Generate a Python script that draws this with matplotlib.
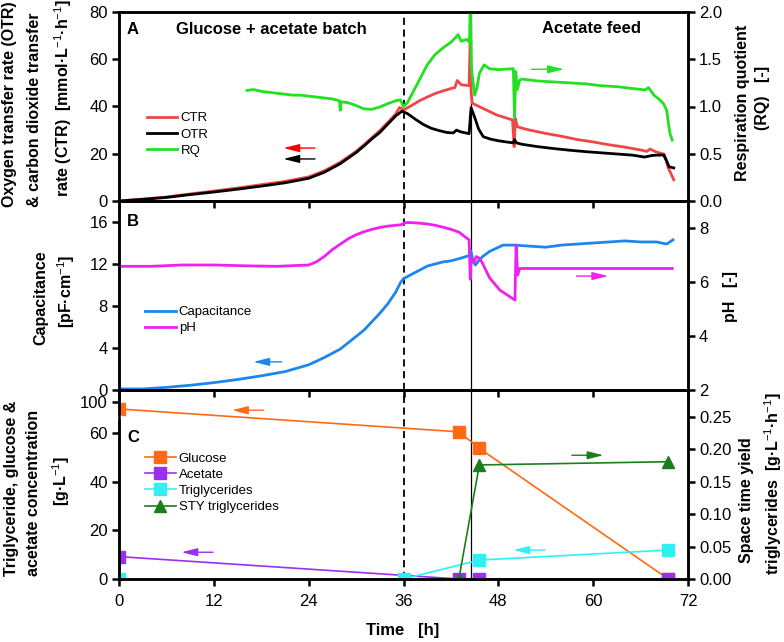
import numpy as np
import matplotlib
matplotlib.use('Agg')
import matplotlib.pyplot as plt
from matplotlib.ticker import FormatStrFormatter

plt.rcParams['font.family'] = ['Liberation Sans', 'DejaVu Sans']
plt.rcParams['mathtext.fontset'] = 'custom'
plt.rcParams['mathtext.rm'] = 'Liberation Sans'
plt.rcParams['mathtext.bf'] = 'Liberation Sans:bold'
plt.rcParams['font.size'] = 12
plt.rcParams['axes.linewidth'] = 1.8

# ---- panel A: OTR / CTR / RQ ----
otr_t = [0, 3, 6, 9, 12, 15, 18, 21, 24, 26, 28, 30, 31, 32, 33, 34, 35, 35.8, 36.5, 37.5,
         38.5, 39.5, 40.5, 41.5, 42.3, 42.7, 43.2, 44.3, 44.55, 45.0, 45.5, 46.1, 47, 48, 49,
         49.9, 50.05, 50.3, 51, 53, 55, 57, 59, 61, 63, 65, 66.5, 67.5, 68.9, 69.3, 69.6, 70.2]
otr = [0, 0.7, 1.5, 2.7, 3.8, 5.0, 6.3, 7.7, 9.6, 12.2, 15.8, 20.5, 23.3, 26.3, 29.0, 32.5,
       36.0, 38.0, 37.0, 34.6, 32.4, 30.8, 29.8, 29.0, 28.8, 30.0, 29.3, 28.5, 39.5, 35.5,
       30.5, 27.2, 26.2, 25.5, 25.0, 24.6, 26.0, 24.6, 24.0, 23.0, 22.2, 21.5, 20.9, 20.4,
       19.9, 19.4, 18.6, 19.3, 19.5, 17.0, 14.5, 14.0]

ctr_t = [0, 3, 6, 9, 12, 15, 18, 21, 24, 26, 28, 30, 31, 32, 33, 34, 35, 35.5, 36, 37, 38,
         39, 40, 41, 42, 42.5, 42.8, 43.3, 44.3, 44.45, 44.55, 44.7, 45.6, 46.5, 47.8, 49.8,
         50.0, 50.15, 50.4, 51, 52, 54, 56, 58, 60, 62, 64, 66, 66.8, 67.2, 68, 69, 69.5, 70.2]
ctr = [0, 0.8, 1.7, 3.0, 4.2, 5.5, 6.9, 8.3, 10.2, 12.8, 16.4, 21.0, 23.8, 26.8, 29.8, 33.2,
       36.8, 39.6, 38.5, 40.4, 42.4, 44.0, 45.5, 46.6, 47.6, 48.0, 51.0, 49.2, 48.8, 70.0,
       46.0, 41.4, 39.9, 38.5, 36.4, 34.3, 23.0, 35.0, 31.5, 30.8, 30.0, 28.6, 27.4, 26.0,
       25.0, 23.8, 22.8, 21.6, 21.0, 22.0, 20.7, 19.8, 14.0, 9.0]

rq_t = [16.2, 17, 18, 19, 20, 21, 22, 23, 24, 25, 26, 27, 27.9, 28.0, 28.1, 29, 30, 31, 32,
        33, 34, 35, 35.6, 36.0, 36.5, 37, 38, 39, 40, 41, 42, 42.6, 42.9, 43.3, 44.0, 44.35,
        44.45, 44.6, 45.0, 45.3, 45.6, 46.2, 46.9, 48, 49.9, 50.05, 50.2, 50.4, 50.7, 51, 53,
        55, 57, 59, 61, 63, 65, 66.6, 67.0, 67.7, 68.3, 68.9, 69.3, 69.7, 70.0]
rq = [1.17, 1.18, 1.16, 1.15, 1.14, 1.13, 1.12, 1.12, 1.11, 1.10, 1.09, 1.08, 1.06, 0.96,
      1.05, 1.04, 1.01, 0.975, 0.97, 0.995, 1.03, 1.06, 1.07, 1.0, 1.04, 1.12, 1.28, 1.44,
      1.55, 1.62, 1.68, 1.73, 1.76, 1.69, 1.71, 1.68, 2.1, 1.4, 1.12, 1.2, 1.35, 1.44, 1.40,
      1.39, 1.40, 0.88, 1.37, 1.18, 1.28, 1.29, 1.27, 1.26, 1.25, 1.24, 1.22, 1.21, 1.19,
      1.175, 1.2, 1.12, 1.08, 1.03, 0.96, 0.72, 0.645]

# ---- panel B: capacitance / pH ----
cap_t = [0, 3, 6, 9, 12, 15, 18, 21, 24, 26, 27, 28, 29, 30, 31, 32, 33, 34, 35, 35.6, 36,
         37, 38, 39, 40, 41, 42, 43, 44.3, 44.5, 44.8, 45.1, 45.5, 46.0, 46.9, 48.6, 50, 52,
         54, 56, 58, 60, 62, 64, 66, 68, 69.3, 70.1]
cap = [0.1, 0.1, 0.25, 0.45, 0.7, 1.0, 1.35, 1.75, 2.4, 3.1, 3.5, 3.9, 4.5, 5.1, 5.7, 6.5,
       7.3, 8.2, 9.3, 10.2, 10.6, 11.0, 11.4, 11.8, 12.0, 12.2, 12.3, 12.5, 12.8, 13.3, 12.3,
       11.9, 12.3, 12.7, 13.2, 13.8, 13.8, 13.7, 13.6, 13.8, 13.9, 14.0, 14.1, 14.2, 14.1,
       14.1, 13.9, 14.3]

ph_t = [0, 4, 8, 12, 16, 20, 24, 25, 26, 27, 28, 29, 30, 31, 32, 33, 34, 35, 35.7, 36.2, 37,
        38, 39, 40, 41, 42, 43, 44.3, 44.45, 44.55, 44.9, 45.2, 45.5, 45.9, 46.9, 48.2, 50.1,
        50.25, 50.45, 50.7, 52, 56, 60, 64, 68, 70]
ph = [6.58, 6.58, 6.63, 6.63, 6.6, 6.58, 6.63, 6.75, 6.95, 7.2, 7.4, 7.6, 7.75, 7.86, 7.95,
      8.02, 8.07, 8.1, 8.12, 8.2, 8.2, 8.18, 8.15, 8.1, 8.03, 7.95, 7.85, 7.56, 6.1, 6.85,
      6.7, 6.94, 6.9, 6.75, 6.15, 5.7, 5.33, 7.37, 6.26, 6.5, 6.5, 6.5, 6.5, 6.5, 6.5, 6.5]

# ---- panel C: offline samples ----
sample_t = [0, 43, 45.6, 69.5]
glucose = [97.2, 60.5, 53.7, 0]
acetate = [9.2, 0, 0, 0]
tg_t = [0, 36, 45.6, 69.5]
triglycerides = [0, 0, 7.8, 11.9]
sty_t = [43, 45.6, 69.5]
sty = [0, 0.176, 0.181]

W, H = 784, 642
fig = plt.figure(figsize=(W / 100, H / 100), dpi=100)

def px_axes(top_px, bottom_px, left_px=119, right_px=688):
    return [left_px / W, 1 - bottom_px / H, (right_px - left_px) / W, (bottom_px - top_px) / H]

axA = fig.add_axes(px_axes(12, 201))
axB = fig.add_axes(px_axes(201, 390))
axC = fig.add_axes(px_axes(390, 579))
axA2 = axA.twinx()
axB2 = axB.twinx()
axC2 = axC.twinx()

for ax in (axA, axB, axC, axA2, axB2, axC2):
    ax.set_facecolor('none')
    ax.tick_params(direction='out', length=5, width=1.8, labelsize=12, pad=3)
    ax.set_xlim(0, 72)
    ax.set_xticks(range(0, 73, 12))
for ax in (axA, axB):
    ax.tick_params(axis='x', labelbottom=False)
for ax in (axA, axB, axC):
    ax.axvline(36, color='black', lw=1.3, dashes=(4, 2.5), zorder=1)
    ax.axvline(44.5, color='black', lw=0.9, zorder=1)

leg_kw = dict(loc='upper left', frameon=False, fontsize=9.5, handlelength=2.3,
              handletextpad=0.25, labelspacing=0.3, borderpad=0, borderaxespad=0)

# panel A
l_ctr, = axA.plot(ctr_t, ctr, color='#F04646', lw=2, label='CTR')
l_otr, = axA.plot(otr_t, otr, color='black', lw=2, label='OTR')
l_rq, = axA2.plot(rq_t, rq, color='#22E022', lw=2, label='RQ')
axA.set_ylim(0, 80)
axA.set_yticks([0, 20, 40, 60, 80])
axA2.set_ylim(0, 2.0)
axA2.set_yticks([0, 0.5, 1.0, 1.5, 2.0])
axA2.yaxis.set_major_formatter(FormatStrFormatter('%.1f'))
axA.legend(handles=[l_ctr, l_otr, l_rq], bbox_to_anchor=(0.049, 0.47), **leg_kw)
axA.text(0.014, 0.91, 'A', transform=axA.transAxes, fontsize=12, fontweight='bold', va='center')
axA.text(0.267, 0.91, 'Glucose + acetate batch', transform=axA.transAxes, fontsize=12,
         fontweight='bold', ha='center', va='center')
axA.text(0.83, 0.915, 'Acetate feed', transform=axA.transAxes, fontsize=12,
         fontweight='bold', ha='center', va='center')

arrow = dict(arrowstyle='-|>,head_length=0.8,head_width=0.2', lw=1, shrinkA=0, shrinkB=0)
def draw_arrow(ax, x_tail, x_tip, y, color):
    ax.annotate('', xy=(x_tip, y), xytext=(x_tail, y), arrowprops=dict(arrow, color=color))

draw_arrow(axA, 24.8, 20.8, 22.4, 'red')
draw_arrow(axA, 24.8, 20.8, 17.8, 'black')
draw_arrow(axA2, 52.2, 56.3, 1.394, '#22E022')

# panel B
l_cap, = axB.plot(cap_t, cap, color='#1C86EE', lw=2, label='Capacitance')
l_ph, = axB2.plot(ph_t, ph, color='#F020F0', lw=2, label='pH')
axB.set_ylim(0, 18)
axB.set_yticks([0, 4, 8, 12, 16])
axB2.set_ylim(2, 9)
axB2.set_yticks([2, 4, 6, 8])
axB.legend(handles=[l_cap, l_ph], bbox_to_anchor=(0.046, 0.445), **leg_kw)
axB.text(0.014, 0.889, 'B', transform=axB.transAxes, fontsize=12, fontweight='bold', va='center')
draw_arrow(axB, 20.6, 17.0, 2.68, '#1C86EE')
draw_arrow(axB2, 57.9, 61.9, 6.22, '#F020F0')

# panel C with broken left axis
brk_in = [-1000, 65.8, 94.7, 1000]
brk_out = [-1000, 65.8, 67.4, 972.7]
axC.set_yscale('function', functions=(lambda y: np.interp(y, brk_in, brk_out),
                                      lambda u: np.interp(u, brk_out, brk_in)))
axC.set_ylim(0, 105)
axC.set_yticks([0, 20, 40, 60, 100])
axC.plot([0, 0], [66.3, 94.2], transform=axC.get_yaxis_transform(), color='white',
         lw=3.5, clip_on=False, zorder=10, solid_capstyle='butt')

l_glc, = axC.plot(sample_t, glucose, color='#FF6A13', lw=1.2, marker='s', ms=8, label='Glucose')
l_ace, = axC.plot(sample_t, acetate, color='#9A30F0', lw=1.2, marker='s', ms=8, label='Acetate')
l_tg, = axC.plot(tg_t, triglycerides, color='#2EF2F2', lw=1.2, marker='s', ms=8,
                 label='Triglycerides')
l_sty, = axC2.plot(sty_t, sty, color='#1A7F1A', lw=1.2, marker='^', ms=9,
                   label='STY triglycerides')
axC2.set_ylim(0, 0.2917)
axC2.set_yticks([0, 0.05, 0.10, 0.15, 0.20, 0.25])
axC2.yaxis.set_major_formatter(FormatStrFormatter('%.2f'))
axC.legend(handles=[l_glc, l_ace, l_tg, l_sty], bbox_to_anchor=(0.046, 0.67), numpoints=1,
           **leg_kw)
axC.text(0.014, 0.751, 'C', transform=axC.transAxes, fontsize=12, fontweight='bold', va='center')
draw_arrow(axC, 18.3, 14.3, 96.7, '#FF6A13')
draw_arrow(axC, 11.9, 7.9, 11.0, '#9A30F0')
draw_arrow(axC, 53.9, 49.9, 11.9, '#2EF2F2')
draw_arrow(axC2, 57.3, 61.3, 0.191, '#1A7F1A')
axC.tick_params(axis='x', pad=6)

# axis titles, placed line by line (pixel centres)
def label(x_px, y_px, s, rot=90, size=11.5):
    fig.text(x_px / W, 1 - y_px / H, s, rotation=rot, ha='center', va='center',
             fontsize=size, fontweight='bold')

unit_a = r'[mmol·L$^{-1}$·h$^{-1}$]'
label(10, 104, 'Oxygen transfer rate (OTR)')
label(35, 110, '& carbon dioxide transfer')
label(63, 98, 'rate (CTR)  ' + unit_a)
label(743, 103, 'Respiration quotient')
label(762, 98, '(RQ)   [-]')
label(41, 298, 'Capacitance')
label(66, 291, r'[pF·cm$^{-1}$]')
label(730, 296, 'pH   [-]')
label(12, 488, 'Triglyceride, glucose &')
label(34, 493, 'acetate concentration')
label(61, 481, r'[g·L$^{-1}$]')
label(746, 500, 'Space time yield')
label(773, 484, r'triglycerides  [g·L$^{-1}$·h$^{-1}$]')
label(403, 630, 'Time   [h]', rot=0, size=12)

fig.savefig('out.png', dpi=100)
